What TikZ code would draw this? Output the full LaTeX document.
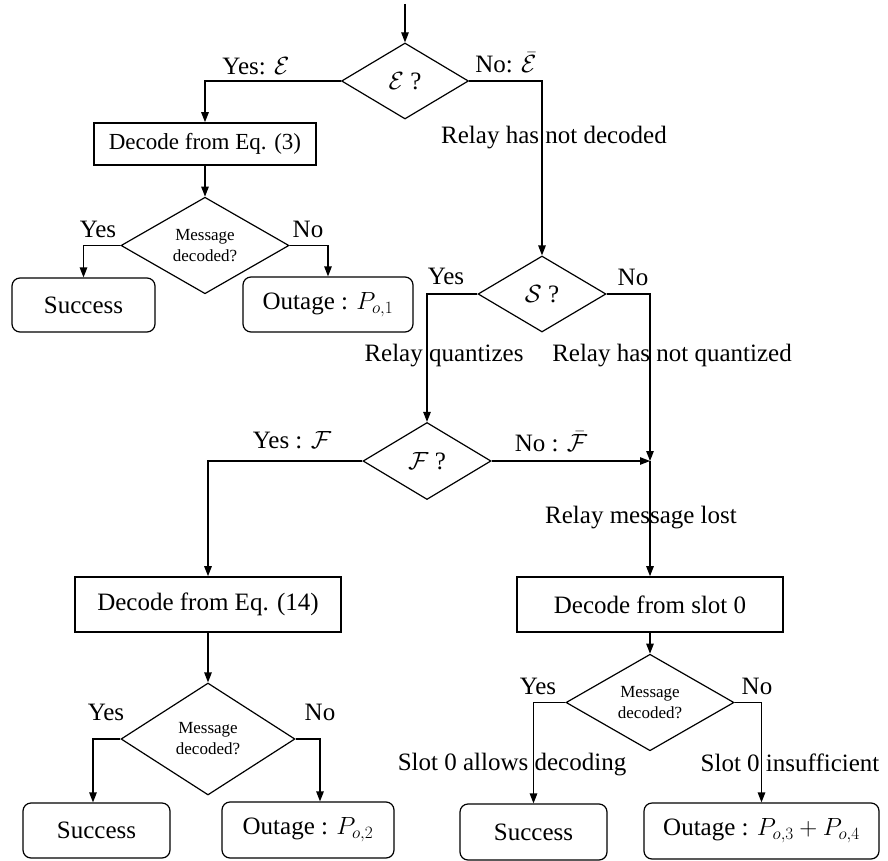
\documentclass[tikz,border=0pt]{standalone}
\usepackage{fontspec}
\setmainfont{Liberation Serif}
\usetikzlibrary{shapes.geometric,arrows.meta}
\begin{document}
\begin{tikzpicture}[x=1pt,y=-1pt,
  big/.style={font=\fontsize{25}{30}\selectfont},
  lbl/.style={big,inner sep=0pt},
  box/.style={big,draw,line width=1.6pt,inner sep=0pt},
  rbox/.style={big,draw,line width=1.2pt,rounded corners=8pt,inner sep=0pt},
  dia/.style={big,draw,diamond,line width=1.2pt,inner sep=0pt},
  sdia/.style={dia,font=\fontsize{17}{21}\selectfont,align=center},
  arr/.style={line width=1.2pt,-{Triangle[length=10pt,width=7.5pt]}},
  ln/.style={line width=1.2pt}
]
\useasboundingbox (0,0) rectangle (888,861);

% nodes
\coordinate (start) at (405,4);
\node[dia,minimum width=127pt,minimum height=76pt] (dE) at (405,81) {$\mathcal{E}$ ?};
\node[box,minimum width=222pt,minimum height=42pt,font=\fontsize{23}{28}\selectfont] (b3) at (205,144) {Decode from Eq. (3)};
\node[sdia,minimum width=168pt,minimum height=95pt] (dm1) at (205,245.5) {Message\\decoded?};
\node[rbox,minimum width=143pt,minimum height=54pt] (s1) at (83.5,305) {Success};
\node[rbox,minimum width=170pt,minimum height=55pt] (o1) at (328,304.5) {Outage : $P_{o,1}$};
\node[dia,minimum width=128pt,minimum height=76pt] (dS) at (542,294) {$\mathcal{S}$ ?};
\node[dia,minimum width=128pt,minimum height=77pt] (dF) at (427,461) {$\mathcal{F}$ ?};
\coordinate (J) at (650,461);
\node[box,minimum width=266pt,minimum height=55pt] (b14) at (208,604.5) {Decode from Eq. (14)};
\node[sdia,minimum width=174pt,minimum height=112pt] (dm2) at (208,739) {Message\\decoded?};
\node[rbox,minimum width=147pt,minimum height=55pt] (s2) at (96.5,830.5) {Success};
\node[rbox,minimum width=172pt,minimum height=56pt] (o2) at (308,830) {Outage : $P_{o,2}$};
\node[box,minimum width=266pt,minimum height=55pt] (bs) at (650,604.5) {Decode from slot 0};
\node[sdia,minimum width=168pt,minimum height=91pt] (dm3) at (650,702.5) {Message\\decoded?};
\node[rbox,minimum width=147pt,minimum height=56pt] (s3) at (533.5,832) {Success};
\node[rbox,minimum width=235pt,minimum height=56pt] (o3) at (761.5,831) {Outage : $P_{o,3}+P_{o,4}$};

% labels
\node[lbl] (lYesE) at (256,66) {Yes: $\mathcal{E}$};
\node[lbl] (lNoE) at (506,63) {No: $\bar{\mathcal{E}}$};
\node[lbl] (lRnd) at (554,138) {Relay has not decoded};
\node[lbl] (lY1) at (98,229) {Yes};
\node[lbl] (lN1) at (308,229) {No};
\node[lbl] (lYS) at (446,276) {Yes};
\node[lbl] (lNS) at (633,277) {No};
\node[lbl] (lRq) at (444,356) {Relay quantizes};
\node[lbl] (lRnq) at (672,356) {Relay has not quantized};
\node[lbl] (lYF) at (292,440) {Yes : $\mathcal{F}$};
\node[lbl] (lNF) at (551,442) {No : $\bar{\mathcal{F}}$};
\node[lbl] (lRml) at (641,518) {Relay message lost};
\node[lbl] (lY2) at (106,712) {Yes};
\node[lbl] (lN2) at (320,712) {No};
\node[lbl] (lY3) at (538,686) {Yes};
\node[lbl] (lN3) at (757,686) {No};
\node[lbl] (lSad) at (512,765) {Slot 0 allows decoding};
\node[lbl] (lSi) at (790,763) {Slot 0 insufficient};

% connectors
\draw[arr] (start) -- (dE.north);
\draw[arr] (dE.west) -| (b3.north);
\draw[arr] (dE.east) -| (dS.north);
\draw[arr] (b3.south) -- (dm1.north);
\draw[arr] (dm1.west) -| (s1.north);
\draw[arr] (dm1.east) -| (o1.north);
\draw[arr] (dS.west) -| (dF.north);
\draw[arr] (dS.east) -| (J);
\draw[arr] (dF.east) -- (J);
\draw[arr] (J) -- (bs.north);
\draw[arr] (dF.west) -| (b14.north);
\draw[arr] (b14.south) -- (dm2.north);
\draw[arr] (dm2.west) -| ([xshift=-3.5pt]s2.north);
\draw[arr] (dm2.east) -| ([xshift=12pt]o2.north);
\draw[arr] (bs.south) -- (dm3.north);
\draw[arr] (dm3.west) -| (s3.north);
\draw[arr] (dm3.east) -| (o3.north);
\end{tikzpicture}
\end{document}
